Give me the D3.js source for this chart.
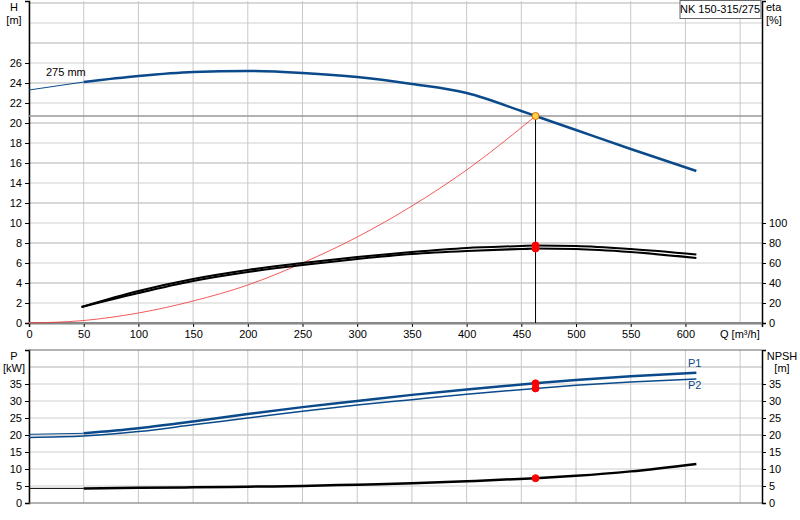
<!DOCTYPE html>
<html><head><meta charset="utf-8">
<script src="https://cdn.jsdelivr.net/npm/d3@7"></script>
<style>body{margin:0;background:#fff}text{font-family:Arial,"Liberation Sans",sans-serif;font-size:11px;fill:#000}</style>
</head><body><svg id="c" width="800" height="520"></svg>
<script>
'use strict';

// head curve (275 mm impeller)
var headQ=[0,50,100,150,200,250,300,350,400,450,463,500,550,610];
var headH=[23.3,24.1,24.7,25.1,25.2,25.0,24.6,23.9,23.0,21.2,20.7,19.3,17.4,15.2];
// system curve
var sysQ=[0,50,100,150,200,250,300,350,400,463];
var sysH=[0,0.25,1,2.2,3.8,6,8.6,11.7,15.3,20.7];
// efficiency curves [%]
var etaQ=[48,100,150,200,250,300,350,400,450,463,500,550,610];
var eta1=[16,32,44,53,60,66,71,75,77,77.5,77,74,68.5];
var eta2=[16,30,42,51,58,64,69,72,74,74.5,74,71,65];
// power curves [kW]
var powQ=[0,50,100,150,200,250,300,350,400,463,500,550,610];
var p1=[20.2,20.5,22,24,26.2,28.2,30,31.8,33.4,35.2,36.2,37.3,38.3];
var p2=[19.3,19.7,21,23,25,27,28.8,30.4,32,33.7,34.6,35.6,36.5];
// NPSH [m]
var npsh=[4.3,4.3,4.5,4.6,4.8,5.0,5.4,5.8,6.4,7.3,8.0,9.3,11.5];
var dutyQ=463, dutyH=20.7;
var xTicks=[0,50,100,150,200,250,300,350,400,450,500,550,600];
var hTicks=[0,2,4,6,8,10,12,14,16,18,20,22,24,26];
var etaTicks=[0,20,40,60,80,100];
var pTicks=[0,5,10,15,20,25,30,35];

var svg=d3.select('#c');
var L=29,R=762;
var x=d3.scaleLinear().domain([0,670]).range([L,R]);
var yH=d3.scaleLinear().domain([0,32.2]).range([323,1]);
var yE=d3.scaleLinear().domain([0,322]).range([323,1]);
var yP=d3.scaleLinear().domain([0,45]).range([503,350]);

function grid(yScale,vals,y0,y1){
  var g=svg.append('g');
  vals.forEach(function(v){g.append('line').attr('x1',L).attr('x2',R).attr('y1',yScale(v)).attr('y2',yScale(v)).attr('stroke',v%4==0?'#d8d8d8':'#cfcfcf').attr('stroke-width',v%4==0?2:1);});
  xTicks.concat([650]).forEach(function(v){g.append('line').attr('x1',x(v)).attr('x2',x(v)).attr('y1',y0).attr('y2',y1).attr('stroke','#c8c8c8');});
}
grid(yH,d3.range(2,33,2),1,323);
grid(yP,d3.range(5,45,5),350,503);

// axes
svg.append('g').attr('transform','translate('+L+',0)').call(d3.axisLeft(yH).tickValues(hTicks).tickSize(4).tickFormat(d3.format('d')));
svg.append('g').attr('transform','translate('+R+',0)').call(d3.axisRight(yE).tickValues(etaTicks).tickSize(4));
svg.append('g').attr('transform','translate(0,323)').call(d3.axisBottom(x).tickValues(xTicks).tickSize(4));
svg.append('g').attr('transform','translate('+L+',0)').call(d3.axisLeft(yP).tickValues(pTicks).tickSize(4));
svg.append('g').attr('transform','translate('+R+',0)').call(d3.axisRight(yP).tickValues(pTicks).tickSize(4));
svg.selectAll('.domain').attr('stroke','#000').attr('stroke-width',1.5);
svg.append('line').attr('x1',L).attr('x2',R).attr('y1',350).attr('y2',350).attr('stroke','#666');
svg.append('line').attr('x1',L).attr('x2',R).attr('y1',503).attr('y2',503).attr('stroke','#666');
svg.append('line').attr('x1',L).attr('x2',R).attr('y1',323).attr('y2',323).attr('stroke','#888').attr('stroke-width',2);

function txt(s,px,py,anchor,col){svg.append('text').attr('x',px).attr('y',py).attr('text-anchor',anchor||'start').style('fill',col||'#000').text(s);}
txt('H',14,11,'middle');txt('[m]',14,24,'middle');
txt('eta',766,11);txt('[%]',766,24);
txt('Q [m³/h]',720,338);
txt('P',14,360,'middle');txt('[kW]',14,372,'middle');
txt('NPSH',782,360,'middle');txt('[m]',782,372,'middle');
txt('275 mm',46,76);
svg.append('rect').attr('x',680).attr('y',0.5).attr('width',81).attr('height',18).attr('fill','#fff').attr('stroke','#666');
txt('NK 150-315/275',720,13,'middle');
svg.selectAll('.tick text').style('font-size','11px');

function curve(xs,ys,yScale,color,w){
  var line=d3.line().x(function(d){return x(d[0]);}).y(function(d){return yScale(d[1]);}).curve(d3.curveMonotoneX);
  svg.append('path').datum(d3.zip(xs,ys)).attr('d',line).attr('fill','none').attr('stroke',color).attr('stroke-width',w);
}
function split(xs,ys,yScale,color){
  curve(xs.slice(0,2),ys.slice(0,2),yScale,color,1);
  curve(xs.slice(1),ys.slice(1),yScale,color,2.5);
}
// duty lines
svg.append('line').attr('x1',L).attr('x2',R).attr('y1',yH(dutyH)).attr('y2',yH(dutyH)).attr('stroke','#999').attr('stroke-width',1.5);
svg.append('line').attr('x1',x(dutyQ)).attr('x2',x(dutyQ)).attr('y1',yH(dutyH)).attr('y2',323).attr('stroke','#000');

curve(sysQ,sysH,yH,'#f03030',0.8);
split(headQ,headH,yH,'#0a4a8a');
curve(etaQ,eta1,yE,'#000',2);
curve(etaQ,eta2,yE,'#000',2.2);
split(powQ,p1,yP,'#0a4a8a');
curve(powQ,p2,yP,'#0a4a8a',1.5);
split(powQ,npsh,yP,'#000');
txt('P1',688,367,'start','#0a4a8a');txt('P2',688,389,'start','#0a4a8a');

function dot(v,yScale,fill,stroke){svg.append('circle').attr('cx',x(dutyQ)).attr('cy',yScale(v)).attr('r',3.5).attr('fill',fill).attr('stroke',stroke||fill);}
dot(dutyH,yH,'#ffd040','#e07000');
dot(eta1[9],yE,'red');dot(eta2[9],yE,'red');
dot(p1[9],yP,'red');dot(p2[9],yP,'red');dot(npsh[9],yP,'red');
</script></body></html>
